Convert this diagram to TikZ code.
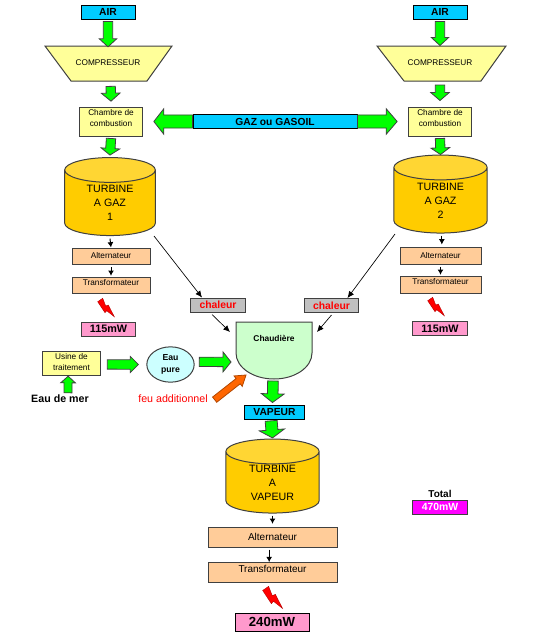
\documentclass[tikz,border=0pt]{standalone}
\usepackage{fontspec}
\setmainfont{Liberation Sans}
\usetikzlibrary{calc,positioning,arrows.meta,shapes.geometric}
\definecolor{airblue}{HTML}{00CCFF}
\definecolor{paleyellow}{HTML}{FFFF99}
\definecolor{peach}{HTML}{FFCC99}
\definecolor{pinkbox}{HTML}{FF99CC}
\definecolor{heatgray}{HTML}{C0C0C0}
\definecolor{flowgreen}{HTML}{00FF00}
\definecolor{boilergreen}{HTML}{CCFFCC}
\definecolor{purewater}{HTML}{CCFFFF}
\definecolor{turbinegold}{HTML}{FFCC00}
\definecolor{turbinetop}{HTML}{FFD633}
\definecolor{fireorange}{HTML}{FF6600}
\definecolor{totalmagenta}{HTML}{FF00FF}
\definecolor{edgegray}{HTML}{404040}

\begin{document}
\begin{tikzpicture}[
      x=0.75pt, y=-0.75pt,
      every node/.style={font=\fontsize{6.2}{8.2}\selectfont, inner sep=0pt, align=center},
      boxed/.style={draw=edgegray, line width=0.75pt, rectangle},
      bluebox/.style={boxed, fill=airblue, draw=black, font=\fontsize{7.7}{9}\bfseries\selectfont,
        minimum width=40.5pt, minimum height=10.5pt},
      compline/.style={draw=edgegray, line width=0.75pt, fill=paleyellow},
      compbox/.style={minimum width=57pt, minimum height=26.25pt, label={[yshift=1.5pt]center:COMPRESSEUR}},
      chamberbox/.style={boxed, fill=paleyellow, minimum width=47pt, minimum height=21.75pt},
      toplabel/.style={label={[yshift=2.3pt, align=center]center:#1}},
      turbinebox/.style={draw=edgegray, line width=0.75pt, cylinder, shape border rotate=90, aspect=0.53,
        cylinder uses custom fill, cylinder end fill=turbinetop, cylinder body fill=turbinegold,
        minimum width=68pt, minimum height=58.5pt,
        font=\fontsize{8}{10.5}\selectfont},
      altbox/.style={boxed, fill=peach, minimum width=58.5pt, minimum height=12pt},
      powerbox/.style={boxed, fill=pinkbox, font=\fontsize{8.1}{9}\bfseries\selectfont,
        minimum width=41pt, minimum height=10.5pt},
      heatbox/.style={boxed, fill=heatgray, text=red, font=\fontsize{7.8}{9}\bfseries\selectfont,
        minimum width=41pt, minimum height=10.5pt},
      flow/.style n args={3}{draw=edgegray, line width=0.6pt, fill=flowgreen,
        to path={
          ($(\tikztostart)!#1!90:(\tikztotarget)$)
          -- ($(\tikztotarget)!#3!(\tikztostart)!#1!90:(\tikztotarget)$)
          -- ($(\tikztotarget)!#3!(\tikztostart)!#2!90:(\tikztotarget)$)
          -- (\tikztotarget)
          -- ($(\tikztotarget)!#3!(\tikztostart)!#2!-90:(\tikztotarget)$)
          -- ($(\tikztotarget)!#3!(\tikztostart)!#1!-90:(\tikztotarget)$)
          -- ($(\tikztostart)!#1!-90:(\tikztotarget)$) -- cycle}},
      thinarrow/.style={-{Latex[length=5pt,width=4.5pt]}, black, line width=0.5pt},
      smallarrow/.style={-{Latex[length=4pt,width=4.5pt]}, black, line width=0.75pt},
      bolt/.pic={
        \draw[fill=red, draw=red!70!black, line width=0.3pt] (-0.3,3.7) -- (4.7,0.3) -- (7.7,8) -- (10.3,7)
          -- (16.3,18.7) -- (8.7,12.7) -- (7,14.7) -- cycle;
      }
    ]
      \useasboundingbox (0,0) rectangle (533,640);
      % left gas turbine
      \node[bluebox] (air1) at (108,12) {AIR};
      \draw[compline] (45,46) -- (172,46) -- (147,81) -- (71,81) -- cycle;
      \node[compbox, below=20.5pt of air1] (comp1) {};
      \node[chamberbox, toplabel={Chambre de\\combustion}] (chamb1) at (111,121.5) {};
      \node[turbinebox] (turb1) at (110,203) {TURBINE\\A GAZ\\1};
      \node[altbox] (alt1) at (111,256) {Alternateur};
      \node[altbox, toplabel={Transformateur}, below=9.5pt of alt1] (trans1) {};
      \pic at (98,298) {bolt};
      \node[powerbox] (mw1) at (108.5,329) {115mW};
      % right gas turbine
      \node[bluebox] (air2) at (440,12) {AIR};
      \draw[compline] (377,46) -- (506,46) -- (481,81) -- (404,81) -- cycle;
      \node[compbox, below=20.5pt of air2] (comp2) {};
      \node[chamberbox, toplabel={Chambre de\\combustion}] (chamb2) at (440,121.5) {};
      \node[turbinebox, minimum width=70pt] (turb2) at (440.5,200.5) {TURBINE\\A GAZ\\2};
      \node[altbox, minimum width=60.75pt, minimum height=12.75pt] (alt2) at (440.5,255.5) {Alternateur};
      \node[altbox, minimum width=60.75pt, minimum height=12.75pt, toplabel={Transformateur}, below=8.5pt of alt2] (trans2) {};
      \pic at (428,297) {bolt};
      \node[powerbox] (mw2) at (440,328.5) {115mW};
      % fuel line
      \node[bluebox, minimum width=123pt] (gaz) at (275,121.5) {GAZ ou GASOIL};
      % water and boiler
      \node[chamberbox, minimum width=44pt, minimum height=18pt, label={[yshift=1pt, align=center]center:Usine de\\traitement}] (usine) at (71.5,363) {};
      \node[font=\fontsize{8}{9}\bfseries\selectfont] (mer) at (60,399) {Eau de mer};
      \node[draw=edgegray, line width=0.75pt, fill=purewater, ellipse, minimum width=35.5pt, minimum height=26.5pt,
        font=\fontsize{6.5}{8.5}\bfseries\selectfont] (pure) at (170.5,364.5) {Eau\\pure};
      \draw[draw=edgegray, line width=0.75pt, fill=boilergreen] (236,322) -- (312,322) -- (312,353)
        arc[x radius=28.5pt, y radius=19.5pt, start angle=0, end angle=-180] -- cycle;
      \node[font=\fontsize{6.3}{8}\bfseries\selectfont] (boiler) at (274,338) {Chaudière};
      \node[heatbox] (heat1) at (218,305) {chaleur};
      \node[heatbox] (heat2) at (331.5,305.5) {chaleur};
      \node[text=red, font=\fontsize{8}{9}\selectfont] (feu) at (173,399) {feu additionnel};
      \node[bluebox, minimum width=44.5pt] (vapeur) at (274.5,412) {VAPEUR};
      % steam turbine
      \node[turbinebox, minimum width=70pt, minimum height=55.5pt] (turb3) at (272.5,482.5) {TURBINE\\A\\VAPEUR};
      \node[altbox, minimum width=96.75pt, minimum height=15pt, font=\fontsize{7.5}{9}\selectfont] (alt3) at (272.5,537) {Alternateur};
      \node[altbox, minimum width=96.75pt, minimum height=15pt, font=\fontsize{7.5}{9}\selectfont,
        label={[yshift=3pt]center:\fontsize{7.5}{9}\selectfont Transformateur}, below=11pt of alt3] (trans3) {};
      \pic[scale=1.2] at (263,586) {bolt};
      \node[powerbox, fill=pinkbox, draw=black, minimum width=55.5pt, minimum height=13.5pt,
        font=\fontsize{9.9}{11}\bfseries\selectfont] (mw3) at (272,622) {240mW};
      % total
      \node[powerbox, fill=totalmagenta, text=white, font=\fontsize{7.8}{9}\bfseries\selectfont] (total) at (440,507) {470mW};
      \node[above=1.5pt of total, font=\fontsize{7.5}{9}\bfseries\selectfont] (totaltext) {Total};
      % free ends of the connectors
      \coordinate (turb1out) at (154,236);
      \coordinate (turb2out) at (395,234);
      \coordinate (boilerleft) at (230,332);
      \coordinate (boilerright) at (317,332);
      \coordinate (boilerfire) at (246,375);
      \coordinate (boilerwater) at (231,362);
      \coordinate (boilerout) at (273,381);
      % block arrows
      \draw[flow={3.5pt}{6.5pt}{6pt}] ([yshift=-1.5pt]air1.south) to (comp1.north);
      \draw[flow={3.5pt}{7pt}{6pt}] ([yshift=-3pt,xshift=2pt]comp1.south) to ([yshift=4pt]chamb1.north);
      \draw[flow={3.5pt}{7pt}{5pt}] ([yshift=-1.5pt]chamb1.south) to ([yshift=1.5pt]turb1.north);
      \draw[flow={3.5pt}{6.5pt}{6pt}] ([yshift=-1.5pt]air2.south) to ([yshift=1pt]comp2.north);
      \draw[flow={3.5pt}{7pt}{6pt}] ([yshift=-2pt]comp2.south) to ([yshift=4.5pt]chamb2.north);
      \draw[flow={3.5pt}{7pt}{5pt}] ([yshift=-1.5pt]chamb2.south) to (turb2.north);
      \draw[flow={4.9pt}{9.6pt}{7.5pt}] (gaz.west) to ([xshift=8.25pt]chamb1.east);
      \draw[flow={4.9pt}{9.6pt}{8.25pt}] (gaz.east) to ([xshift=-8.25pt]chamb2.west);
      \draw[flow={3pt}{5.5pt}{5pt}] ([yshift=1.5pt,xshift=6pt]mer.north) to ([xshift=-2.5pt,yshift=-0.5pt]usine.south);
      \draw[flow={3.5pt}{6pt}{6pt}] ([xshift=4.5pt,yshift=-1.1pt]usine.east) to ([xshift=-6pt]pure.west);
      \draw[flow={3.5pt}{7.5pt}{6pt}] ([xshift=3.5pt,yshift=2pt]pure.east) to (boilerwater);
      \draw[flow={4pt}{8.5pt}{6.5pt}] (boilerout) to ([xshift=-1.5pt,yshift=1.5pt]vapeur.north);
      \draw[flow={4.5pt}{9.5pt}{6pt}] ([xshift=-2.5pt,yshift=-1pt]vapeur.south) to ([yshift=0.5pt]turb3.north);
      \draw[flow={2.5pt}{5pt}{7.5pt}, fill=fireorange, draw=fireorange!70!black] ([xshift=5pt,yshift=-0.5pt]feu.east) to (boilerfire);
      % thin arrows
      \draw[thinarrow] (turb1out) -- ([xshift=-12pt]heat1.north);
      \draw[thinarrow] (turb2out) -- ([xshift=12pt]heat2.north);
      \draw[thinarrow] ([xshift=-4.5pt,yshift=-1.5pt]heat1.south) -- (boilerleft);
      \draw[thinarrow] ([yshift=-1.5pt]heat2.south) -- (boilerright);
      \draw[smallarrow] ([yshift=-2pt]turb1.south) -- (alt1.north);
      \draw[smallarrow] ([yshift=-2pt]alt1.south) -- ([yshift=1pt]trans1.north);
      \draw[smallarrow] ([yshift=-1.5pt,xshift=1pt]turb2.south) -- ([xshift=1pt,yshift=1.5pt]alt2.north);
      \draw[smallarrow] ([yshift=-1.5pt]alt2.south) -- ([yshift=0.75pt]trans2.north);
      \draw[smallarrow] ([yshift=-1.5pt]turb3.south) -- ([yshift=2pt]alt3.north);
      \draw[smallarrow] ([xshift=-2.5pt,yshift=-1.5pt]alt3.south) -- ([xshift=-2.5pt]trans3.north);
    \end{tikzpicture}
\end{document}
